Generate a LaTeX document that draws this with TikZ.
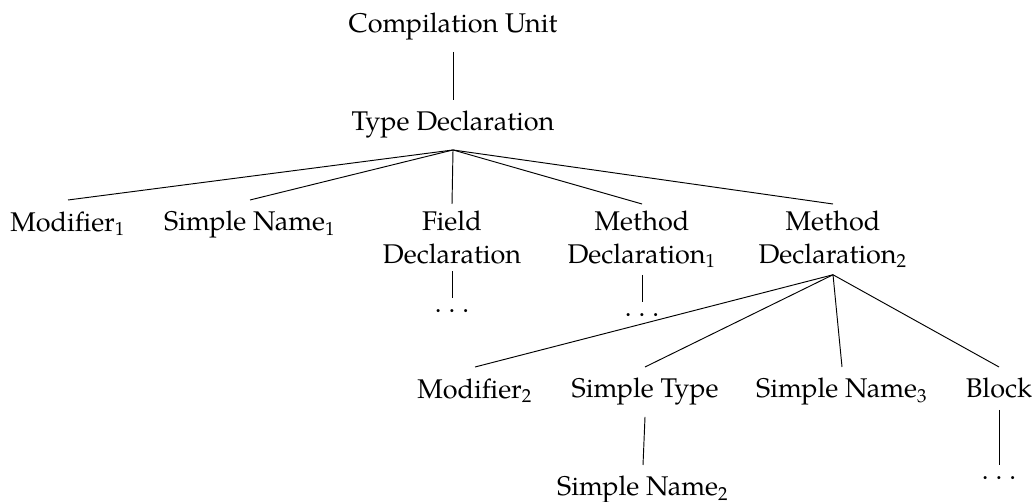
\documentclass[tikz,border=0pt]{standalone}
\usepackage{fontspec}
\setmainfont{TeX Gyre Pagella}
\newcommand{\ix}[1]{\textsubscript{#1}}
\newcommand{\etc}{.\kern2.6pt.\kern2.6pt.}
\begin{document}
\begin{tikzpicture}[x=0.37pt,y=-0.37pt,
  lbl/.style={inner xsep=2pt,inner ysep=4pt,font=\fontsize{10}{12}\selectfont,align=center},
  twoline/.style={lbl,inner ysep=2.5pt},
  edge/.style={line width=0.35pt}]
\useasboundingbox (0,0) rectangle (1035,502);
% tree nodes
\node[lbl,anchor=base]  (cu)   at (453,33)  {Compilation Unit};
\node[lbl,anchor=north] (td)   at (453,100) {Type Declaration};
\node[lbl,anchor=north] (mod1) at (68,200)  {Modifier\ix{1}};
\node[lbl,anchor=north] (sn1)  at (250,200) {Simple Name\ix{1}};
\node[twoline,anchor=north] (fd)  at (452,204) {Field\\Declaration};
\node[twoline,anchor=north] (md1) at (642,204) {Method\\Declaration\ix{1}};
\node[twoline,anchor=north] (md2) at (833,204) {Method\\Declaration\ix{2}};
\node[lbl,anchor=north] (d1)   at (452,298) {\etc};
\node[lbl,anchor=north] (d2)   at (642,302) {\etc};
\node[lbl,anchor=north] (mod2) at (475,367) {Modifier\ix{2}};
\node[lbl,anchor=north] (st)   at (645,367) {Simple Type};
\node[lbl,anchor=north] (sn3)  at (842,367) {Simple Name\ix{3}};
\node[lbl,anchor=north] (blk)  at (999,367) {Block};
\node[lbl,anchor=north] (sn2)  at (643,465) {Simple Name\ix{2}};
\node[lbl,anchor=north] (d3)   at (999,465) {\etc};
% connectors
\draw[edge] (cu.south) -- (td.north);
\foreach \c in {mod1,sn1,fd,md1,md2} \draw[edge] (td.south) -- (\c.north);
\draw[edge] (fd.south) -- (d1.north);
\draw[edge] (md1.south) -- (d2.north);
\foreach \c in {mod2,st,sn3,blk} \draw[edge] (md2.south) -- (\c.north);
\draw[edge] (st.south) -- (sn2.north);
\draw[edge] (blk.south) -- (d3.north);
\end{tikzpicture}
\end{document}
